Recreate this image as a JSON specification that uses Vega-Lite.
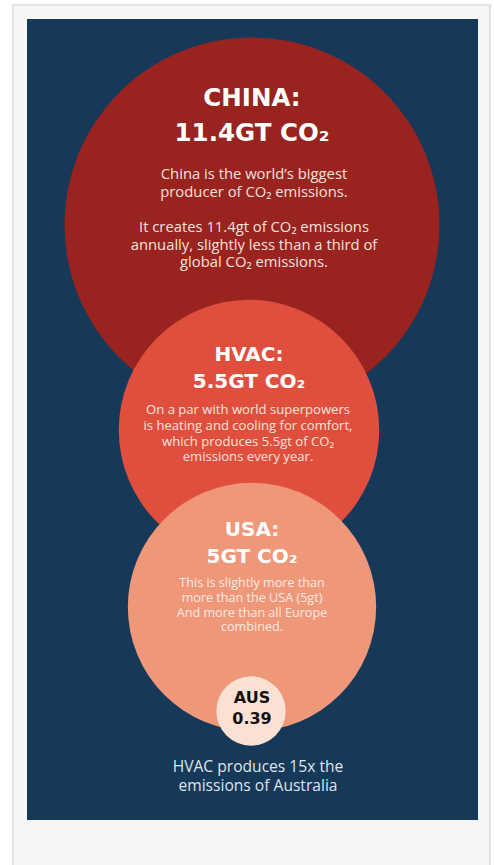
{
  "$schema": "https://vega.github.io/schema/vega-lite/v6.json",
  "width": 494,
  "height": 865,
  "autosize": {"type": "none"},
  "padding": 0,
  "background": "#ffffff",
  "config": {"view": {"stroke": null}},
  "datasets": {
    "panels": [
      {"panel": "outer", "x1": 13, "x2": 490, "y1": 5, "y2": 868},
      {"panel": "navy", "x1": 27, "x2": 478, "y1": 19, "y2": 820}
    ],
    "circles": [
      {"name": "China", "value": 11.4, "cx": 252, "cy": 225},
      {"name": "HVAC", "value": 5.5, "cx": 249, "cy": 430},
      {"name": "USA", "value": 5, "cx": 252, "cy": 607},
      {"name": "AUS", "value": 0.39, "cx": 251, "cy": 711}
    ],
    "texts": [
      {"block": "chinaTitle", "cx": 252, "cy": 99, "label": "CHINA:\n11.4GT CO₂"},
      {"block": "chinaBody", "cx": 254, "cy": 175, "label": "China is the world’s biggest\nproducer of CO₂ emissions."},
      {"block": "chinaBody", "cx": 254, "cy": 228, "label": "It creates 11.4gt of CO₂ emissions\nannually, slightly less than a third of\nglobal CO₂ emissions."},
      {"block": "hvacTitle", "cx": 249, "cy": 355, "label": "HVAC:\n5.5GT CO₂"},
      {"block": "hvacBody", "cx": 248, "cy": 410, "label": "On a par with world superpowers\nis heating and cooling for comfort,\nwhich produces 5.5gt of CO₂\nemissions every year."},
      {"block": "usaTitle", "cx": 252, "cy": 530, "label": "USA:\n5GT CO₂"},
      {"block": "usaBody", "cx": 252, "cy": 583, "label": "This is slightly more than\nmore than the USA (5gt)\nAnd more than all Europe\ncombined."},
      {"block": "ausLabel", "cx": 252, "cy": 698, "label": "AUS\n0.39"},
      {"block": "footer", "cx": 258, "cy": 767, "label": "HVAC produces 15x the\nemissions of Australia"}
    ]
  },
  "encoding": {
    "x": {"field": "cx", "type": "quantitative", "scale": {"domain": [0, 494], "nice": false, "zero": false}, "axis": null},
    "y": {"field": "cy", "type": "quantitative", "scale": {"domain": [0, 865], "nice": false, "zero": false, "reverse": true}, "axis": null}
  },
  "layer": [
    {
      "data": {"name": "panels"},
      "transform": [{"filter": "datum.panel == 'outer'"}],
      "mark": {"type": "rect", "fill": "#f6f6f6", "stroke": "#e3e3e3", "strokeWidth": 2},
      "encoding": {
        "x": {"field": "x1", "type": "quantitative", "scale": {"domain": [0, 494], "nice": false, "zero": false}, "axis": null},
        "x2": {"field": "x2"},
        "y": {"field": "y1", "type": "quantitative", "scale": {"domain": [0, 865], "nice": false, "zero": false, "reverse": true}, "axis": null},
        "y2": {"field": "y2"}
      }
    },
    {
      "data": {"name": "panels"},
      "transform": [{"filter": "datum.panel == 'navy'"}],
      "mark": {"type": "rect", "fill": "#163859"},
      "encoding": {
        "x": {"field": "x1", "type": "quantitative", "scale": {"domain": [0, 494], "nice": false, "zero": false}, "axis": null},
        "x2": {"field": "x2"},
        "y": {"field": "y1", "type": "quantitative", "scale": {"domain": [0, 865], "nice": false, "zero": false, "reverse": true}, "axis": null},
        "y2": {"field": "y2"}
      }
    },
    {
      "data": {"name": "circles"},
      "mark": {"type": "point", "shape": "circle", "filled": true, "opacity": 1, "strokeWidth": 0},
      "encoding": {
        "size": {"field": "value", "type": "quantitative", "scale": {"type": "linear", "domain": [0, 11.4], "range": [0, 140625]}, "legend": null},
        "color": {"field": "name", "type": "nominal", "scale": {"domain": ["China", "HVAC", "USA", "AUS"], "range": ["#99231f", "#e04f3d", "#ef9779", "#fbe1d3"]}, "legend": null}
      }
    },
    {
      "data": {"name": "texts"},
      "transform": [{"filter": "datum.block == 'chinaTitle'"}],
      "mark": {"type": "text", "lineBreak": "\n", "font": "DejaVu Sans", "fontWeight": "bold", "fontSize": 24.5, "lineHeight": 35, "color": "#ffffff", "align": "center", "baseline": "middle"},
      "encoding": {"text": {"field": "label"}}
    },
    {
      "data": {"name": "texts"},
      "transform": [{"filter": "datum.block == 'chinaBody'"}],
      "mark": {"type": "text", "lineBreak": "\n", "font": "Open Sans", "fontSize": 14.8, "lineHeight": 17.6, "color": "#f4e2de", "align": "center", "baseline": "middle"},
      "encoding": {"text": {"field": "label"}}
    },
    {
      "data": {"name": "texts"},
      "transform": [{"filter": "datum.block == 'hvacTitle' || datum.block == 'usaTitle'"}],
      "mark": {"type": "text", "lineBreak": "\n", "font": "DejaVu Sans", "fontWeight": "bold", "fontSize": 20, "lineHeight": 27, "color": "#ffffff", "align": "center", "baseline": "middle"},
      "encoding": {"text": {"field": "label"}}
    },
    {
      "data": {"name": "texts"},
      "transform": [{"filter": "datum.block == 'hvacBody'"}],
      "mark": {"type": "text", "lineBreak": "\n", "font": "Open Sans", "fontSize": 13.1, "lineHeight": 15.8, "color": "#fbe3dc", "align": "center", "baseline": "middle"},
      "encoding": {"text": {"field": "label"}}
    },
    {
      "data": {"name": "texts"},
      "transform": [{"filter": "datum.block == 'usaBody'"}],
      "mark": {"type": "text", "lineBreak": "\n", "font": "Open Sans", "fontSize": 12.6, "lineHeight": 14.8, "color": "#fdeae2", "align": "center", "baseline": "middle"},
      "encoding": {"text": {"field": "label"}}
    },
    {
      "data": {"name": "texts"},
      "transform": [{"filter": "datum.block == 'ausLabel'"}],
      "mark": {"type": "text", "lineBreak": "\n", "font": "DejaVu Sans", "fontWeight": "bold", "fontSize": 16, "lineHeight": 21, "color": "#111111", "align": "center", "baseline": "middle"},
      "encoding": {"text": {"field": "label"}}
    },
    {
      "data": {"name": "texts"},
      "transform": [{"filter": "datum.block == 'footer'"}],
      "mark": {"type": "text", "lineBreak": "\n", "font": "Open Sans", "fontSize": 15.6, "lineHeight": 19, "color": "#dfe5ea", "align": "center", "baseline": "middle"},
      "encoding": {"text": {"field": "label"}}
    }
  ]
}
